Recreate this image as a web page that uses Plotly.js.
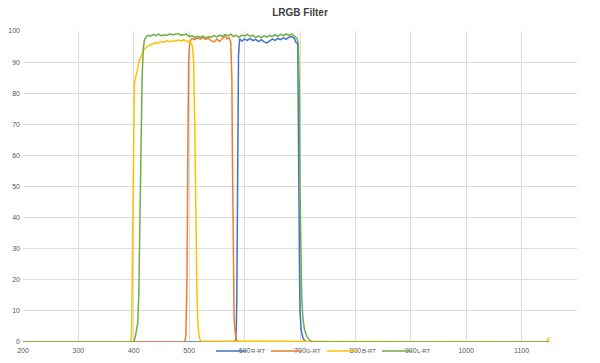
<!DOCTYPE html>
<html>
<head>
<meta charset="utf-8">
<script src="https://cdn.plot.ly/plotly-3.0.1.min.js"></script>
<style>html,body{margin:0;padding:0;background:#fff;}#chart{width:600px;height:363px;}</style>
</head>
<body>
<div id="chart"></div>
<script>
// Series names (legend)
var seriesNames = ["R-RT", "G-RT", "B-RT", "L-RT"];

// Blue series (red passband)
var redX = [200, 582, 584, 585, 586, 587, 588, 589, 591, 595, 600, 605, 610, 615, 620, 625, 630, 635, 640, 645, 650, 655, 660, 665, 670, 675, 680, 685, 690, 692, 694, 696, 697, 698, 699, 700, 702, 705, 708, 712, 1150];
var redY = [0, 0, 1, 4, 15, 45, 75, 92, 97.5, 96.8, 97.4, 97.0, 97.6, 96.9, 97.3, 96.6, 97.2, 96.5, 96.2, 96.9, 97.4, 97.0, 97.6, 97.2, 97.8, 97.3, 98.0, 98.2, 97.6, 96.5, 96.3, 95.5, 80, 50, 25, 10, 4, 1.5, 0.5, 0, 0];

// Orange series (green passband)
var greenX = [200, 492, 494, 496, 498, 499, 501, 505, 510, 515, 520, 525, 530, 535, 540, 545, 550, 555, 560, 565, 568, 572, 575, 577, 578, 579, 580, 581, 583, 585, 588, 1150];
var greenY = [0, 0, 2, 20, 70, 90, 96.5, 97.6, 97.2, 97.8, 97.4, 97.9, 97.3, 97.7, 96.8, 96.5, 97.4, 96.7, 97.6, 98.4, 97.5, 97.9, 96.5, 85, 60, 35, 18, 8, 3, 1, 0, 0];

// Yellow series (blue passband)
var blueX = [200, 394, 396, 398, 400, 401, 403, 406, 409, 413, 418, 424, 430, 435, 440, 445, 450, 455, 460, 465, 470, 475, 480, 485, 490, 495, 500, 504, 506, 508, 510, 512, 514, 516, 518, 521, 1145, 1150];
var blueY = [0, 0, 2, 30, 70, 83, 85, 87, 90, 92, 94, 95, 95.6, 95.9, 96.3, 96.1, 96.6, 96.4, 96.9, 96.5, 97.0, 96.7, 97.1, 96.8, 97.2, 96.6, 96.8, 96.0, 95.0, 90, 70, 40, 15, 5, 1.5, 0.3, 0, 1.5];

// Green series (luminance passband)
var lumX = [200, 400, 403, 405, 407, 409, 411, 413, 415, 417, 419, 422, 425, 430, 435, 440, 445, 450, 455, 460, 465, 470, 475, 480, 485, 490, 495, 500, 505, 510, 515, 520, 525, 530, 535, 540, 545, 550, 555, 560, 565, 570, 575, 580, 585, 590, 595, 600, 605, 610, 615, 620, 625, 630, 635, 640, 645, 650, 655, 660, 665, 670, 675, 680, 685, 690, 695, 697, 699, 700, 701, 703, 705, 708, 712, 716, 720, 725, 1150];
var lumY = [0, 0, 2, 5, 6, 15, 40, 65, 85, 94, 97, 98, 98.6, 98.3, 98.9, 98.5, 99.0, 98.4, 98.8, 98.6, 99.1, 98.7, 98.9, 99.2, 98.6, 98.8, 99.0, 98.2, 98.5, 97.9, 98.3, 98.0, 98.4, 97.8, 98.2, 98.0, 98.5, 98.1, 98.7, 98.3, 98.9, 98.4, 99.0, 98.2, 98.6, 98.0, 98.7, 98.4, 98.9, 98.3, 98.6, 97.9, 98.4, 97.8, 98.5, 98.0, 98.6, 98.2, 98.8, 98.3, 98.9, 98.5, 99.1, 98.6, 99.0, 98.4, 97.5, 96, 80, 50, 30, 15, 8, 4, 2, 0.8, 0.2, 0, 0];

// Axis ticks
var xTicks = [200, 300, 400, 500, 600, 700, 800, 900, 1000, 1100];
var yTicks = [0, 10, 20, 30, 40, 50, 60, 70, 80, 90, 100];

var colors = ["#4472C4", "#ED7D31", "#FFC000", "#70AD47"];
var xs = [redX, greenX, blueX, lumX];
var ys = [redY, greenY, blueY, lumY];
var legendIds = ["legend", "legend2", "legend3", "legend4"];
var legendX = [211, 266, 322, 377];

var traces = xs.map(function (x, i) {
  return {
    type: "scatter", mode: "lines", x: x, y: ys[i], name: seriesNames[i],
    legend: legendIds[i],
    line: {color: colors[i], width: 1.5}
  };
});

var layout = {
  width: 600, height: 363,
  margin: {l: 23, r: 23, t: 31, b: 21, autoexpand: false},
  paper_bgcolor: "#ffffff", plot_bgcolor: "#ffffff",
  font: {family: "Liberation Sans, Arial, sans-serif", color: "#595959", size: 8},
  title: {text: "<b>LRGB Filter</b>", x: 0.5, xanchor: "center", y: 0.965, yanchor: "middle",
          font: {size: 10, color: "#404040", family: "Liberation Sans, Arial, sans-serif"}},
  xaxis: {range: [200, 1200], tickvals: xTicks, ticktext: xTicks.map(String),
          showgrid: true, gridcolor: "#dcdcdc", gridwidth: 1, zeroline: false, showline: false,
          ticks: "", ticklabelstandoff: 3, tickfont: {size: 7, color: "#595959"}},
  yaxis: {range: [0, 100], tickvals: yTicks, ticktext: yTicks.map(String),
          showgrid: true, gridcolor: "#dcdcdc", gridwidth: 1, zeroline: false, showline: false,
          ticks: "", ticklabelstandoff: 2, tickfont: {size: 7, color: "#595959"}},
  showlegend: true
};

legendIds.forEach(function (id, i) {
  layout[id] = {
    orientation: "h", xref: "container", yref: "container",
    x: legendX[i] / 600, xanchor: "left", y: 0.033, yanchor: "middle",
    bgcolor: "rgba(0,0,0,0)", borderwidth: 0, font: {size: 6, color: "#595959"},
    itemwidth: 30, tracegroupgap: 0
  };
});

Plotly.newPlot("chart", traces, layout, {displayModeBar: false, staticPlot: true});
</script>
</body>
</html>
